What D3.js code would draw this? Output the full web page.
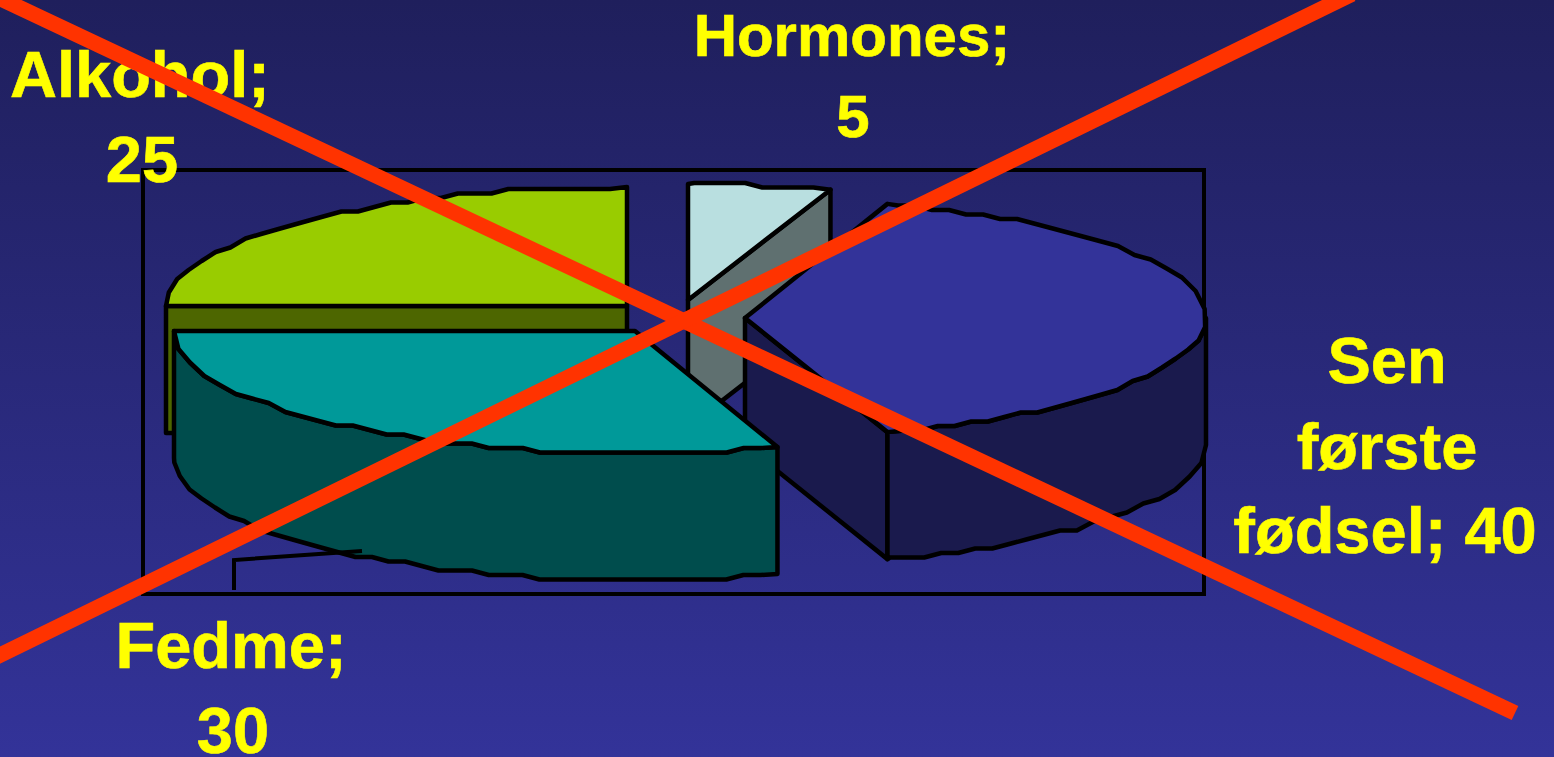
<!DOCTYPE html>
<html><head><meta charset="utf-8">
<script src="https://cdn.jsdelivr.net/npm/d3@7"></script>
<style>html,body{margin:0;padding:0;background:#2a2a80;overflow:hidden}svg{display:block}</style>
</head><body><svg id="c" width="1554" height="757"></svg>
<script>
// Data, in the pie's own drawing order
const categories = ["Sen første fødsel", "Hormones", "Alkohol", "Fedme"];
const values = [40, 5, 25, 30];
const topColors = ["#333399", "#b9dfe0", "#99cc00", "#009999"];
const sideColors = ["#1a1a4d", "#5f7070", "#4d6600", "#004d4d"];
const labelLines = [["Sen", "første", "fødsel; 40"], ["Hormones;", "5"], ["Alkohol;", "25"], ["Fedme;", "30"]];

// Layout
const W = 1554, H = 757;
const RX = 461, DEPTH = 127, STEP = 4.5, SEG = 17;
const radiiY = [120, 116, 119, 122];
const apexes = [[745, 318], [688, 300], [627, 306], [635, 331]];
const labelX = [[1387, 1387, 1385], [852, 853], [140, 142], [231, 233]];
const labelY = [[383, 469, 553], [56, 137], [97, 182], [668, 753]];
const labelSize = [65, 60, 65, 65];
const frame = [143, 170, 1204, 594];
const leader = [[234, 590], [234, 560], [362, 551]];
const crossA = [[-20, -11], [1515, 713]], crossB = [[1352, -6], [-12, 661]];

const svg = d3.select("#c");
const defs = svg.append("defs");
const grad = defs.append("linearGradient").attr("id", "bg").attr("x1", 0).attr("y1", 0).attr("x2", 0).attr("y2", 1);
grad.append("stop").attr("offset", 0).attr("stop-color", "#1f1f5c");
grad.append("stop").attr("offset", 1).attr("stop-color", "#333399");
svg.append("rect").attr("width", W).attr("height", H).attr("fill", "url(#bg)");

svg.append("rect").attr("x", frame[0]).attr("y", frame[1])
  .attr("width", frame[2] - frame[0]).attr("height", frame[3] - frame[1])
  .attr("fill", "none").attr("stroke", "#000").attr("stroke-width", 4);

// Angles here are measured counter-clockwise from the +x axis; the first slice is centred on the right
const pie = d3.pie().sort(null).value(d => d).startAngle(-0.4 * Math.PI).endAngle(1.6 * Math.PI);
const arcs = pie(values);
const xS = d3.scaleLinear().domain([-1, 1]).range([-RX, RX]);
const line = d3.line();

// Walks the ellipse in near-equal steps and snaps y to a coarse grid, giving the jagged rim of the original
function arcPts(a0, a1, ax, ay, ry, dz) {
  const yS = d3.scaleLinear().domain([-1, 1]).range([-ry, ry]);
  const dir = a1 >= a0 ? 1 : -1;
  const ts = [];
  for (let t = a0; dir * (a1 - t) > 0;) {
    ts.push(t);
    t += dir * SEG / Math.hypot(RX * Math.sin(t), ry * Math.cos(t));
  }
  ts.push(a1);
  return ts.map((t, i) => {
    const end = i === 0 || i === ts.length - 1;
    const y = yS(-Math.sin(t));
    return [ax + xS(Math.cos(t)), ay + dz + (end ? y : Math.round(y / STEP) * STEP)];
  });
}
const poly = (g, pts, fill) => g.append("path").attr("d", line(pts) + "Z").attr("fill", fill)
  .attr("stroke", "#000").attr("stroke-width", 4.5).attr("stroke-linejoin", "round");

// Slices are stacked back to front: Alkohol, Hormones, Sen, Fedme
[2, 1, 0, 3].forEach(i => {
  const a = arcs[i], g = svg.append("g").attr("class", "slice");
  const [ax, ay] = apexes[i], ry = radiiY[i];
  const a0 = a.startAngle, a1 = a.endAngle;
  const top = arcPts(a0, a1, ax, ay, ry, 0);
  const side = sideColors[i];
  const rayFace = p => poly(g, [[ax, ay], p, [p[0], p[1] + DEPTH], [ax, ay + DEPTH]], side);
  const rimFace = (s, e) => poly(g, arcPts(s, e, ax, ay, ry, 0).concat(arcPts(e, s, ax, ay, ry, DEPTH)), side);
  const start = top[0], end = top[top.length - 1];
  if (categories[i] === "Sen første fødsel") {
    rayFace(start);
    rimFace(a0, 0);
  } else if (categories[i] === "Hormones") {
    rayFace(start);
  } else if (categories[i] === "Alkohol") {
    rayFace(end);
  } else {
    rimFace(a0, a1);
  }
  poly(g, [[ax, ay]].concat(top), topColors[i]);
});

svg.append("path").attr("d", line(leader)).attr("fill", "none").attr("stroke", "#000").attr("stroke-width", 4);

labelLines.forEach((lines, i) => lines.forEach((t, j) => {
  svg.append("text").attr("x", labelX[i][j]).attr("y", labelY[i][j]).attr("text-anchor", "middle")
    .attr("font-family", "'Liberation Sans', Arial, sans-serif").attr("font-weight", "bold")
    .attr("font-size", labelSize[i]).attr("fill", "#ffff00").attr("stroke", "#ffff00").attr("stroke-width", 0.6).text(t);
}));

[crossA, crossB].forEach(c => svg.append("path").attr("d", line(c)).attr("fill", "none")
  .attr("stroke", "#ff3300").attr("stroke-width", 15.5));
</script></body></html>
